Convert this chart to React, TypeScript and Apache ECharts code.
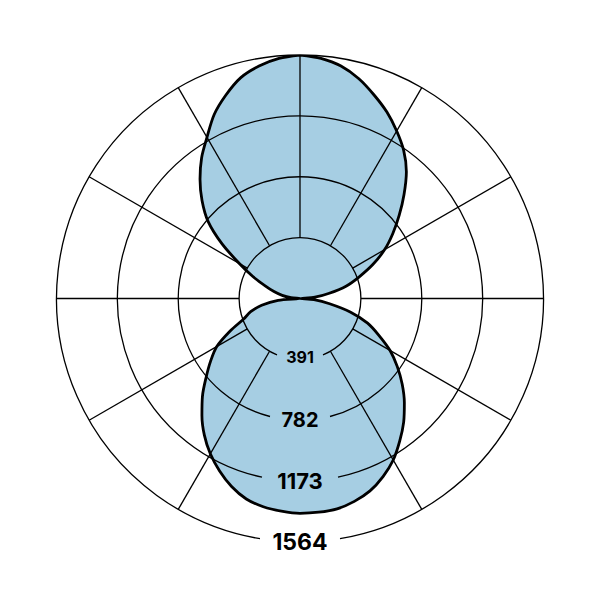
import React, { useEffect, useRef } from "react";
import * as echarts from "echarts";

// Pattern values: clockwise angle from top (degrees) and radius values
const angles = [
  0, 5, 10, 15, 20, 25, 30, 35, 40, 45, 50, 55, 60, 65, 70, 75, 80, 85, 90,
  95, 100, 105, 110, 115, 120, 125, 130, 135, 140, 145, 150, 155, 160, 165, 170, 175, 180,
  185, 190, 195, 200, 205, 210, 215, 220, 225, 230, 235, 240, 245, 250, 255, 260, 265, 270,
  275, 280, 285, 290, 295, 300, 305, 310, 315, 320, 325, 330, 335, 340, 345, 350, 355, 360,
];
const radii = [
  1564, 1548, 1516, 1461, 1391, 1321, 1242, 1161, 1063, 945, 832, 728, 628, 516, 403, 306, 186, 96, 0,
  90, 193, 334, 462, 559, 668, 763, 857, 948, 1036, 1117, 1198, 1262, 1315, 1349, 1372, 1378, 1380,
  1371, 1358, 1333, 1285, 1222, 1152, 1071, 980, 886, 787, 701, 617, 495, 385, 328, 250, 141, 0,
  58, 116, 173, 238, 334, 450, 611, 771, 890, 999, 1102, 1195, 1304, 1391, 1469, 1516, 1548, 1564,
];

// Radial ticks and labels
const tickValues = [391, 782, 1173, 1564];
const tickLabels = ["391", "782", "1173", "1564"];
// Spoke angles (degrees, clockwise from top)
const spokeAngles = [0, 30, 60, 90, 120, 150, 210, 240, 270, 300, 330];

// Styles
const labelFontSizes = [16, 20, 22, 23];
const labelGapHalf = [23, 30, 38, 40];
const labelOffsetY = [-2, 0, 0, 0];

export default function App() {
  const ref = useRef<HTMLDivElement>(null);
  useEffect(() => {
    if (!ref.current) return;
    const chart = echarts.init(ref.current, null, { renderer: "svg" });
    chart.setOption({
      animation: false,
      backgroundColor: "#ffffff",
      polar: { center: [300, 298.5], radius: 243.5 },
      angleAxis: { type: "value", min: 0, max: 360, startAngle: 90, clockwise: true, show: false },
      radiusAxis: { type: "value", min: 0, max: 1564, interval: 391, show: false },
      series: [
        {
          type: "line",
          coordinateSystem: "polar",
          data: angles.map((a, i) => [radii[i], a]),
          symbol: "none",
          smooth: 0.3,
          lineStyle: { color: "#000000", width: 2.8 },
          areaStyle: { color: "#a6cee3", opacity: 1 },
          z: 2,
          silent: true,
        },
        {
          type: "custom",
          coordinateSystem: "polar",
          data: [[0, 0]],
          z: 3,
          silent: true,
          renderItem: (params: any, api: any) => {
            const c = api.coord([0, 0]);
            const children: any[] = [];
            tickValues.forEach((v, i) => {
              const p = api.coord([v, 0]);
              const r = Math.hypot(p[0] - c[0], p[1] - c[1]);
              const g = Math.asin(Math.min(1, labelGapHalf[i] / r));
              children.push({
                type: "arc",
                shape: { cx: c[0], cy: c[1], r, startAngle: Math.PI / 2 + g, endAngle: Math.PI * 2.5 - g, clockwise: true },
                style: { stroke: "#000000", lineWidth: 1.3, fill: "none" },
              });
            });
            spokeAngles.forEach((a) => {
              const p1 = api.coord([tickValues[0], a]);
              const p2 = api.coord([tickValues[tickValues.length - 1], a]);
              children.push({
                type: "line",
                shape: { x1: p1[0], y1: p1[1], x2: p2[0], y2: p2[1] },
                style: { stroke: "#000000", lineWidth: 1.3 },
              });
            });
            tickValues.forEach((v, i) => {
              const p = api.coord([v, 180]);
              children.push({
                type: "text",
                x: p[0],
                y: p[1] + labelOffsetY[i],
                style: {
                  text: tickLabels[i],
                  fontSize: labelFontSizes[i],
                  fontWeight: "bold",
                  fontFamily: "Inter",
                  fill: "#000000",
                  align: "center",
                  verticalAlign: "middle",
                },
              });
            });
            return { type: "group", children };
          },
        },
      ],
    });
    return () => chart.dispose();
  }, []);
  return <div ref={ref} style={{ position: "absolute", left: 0, top: 0, width: 601, height: 601 }} />;
}
